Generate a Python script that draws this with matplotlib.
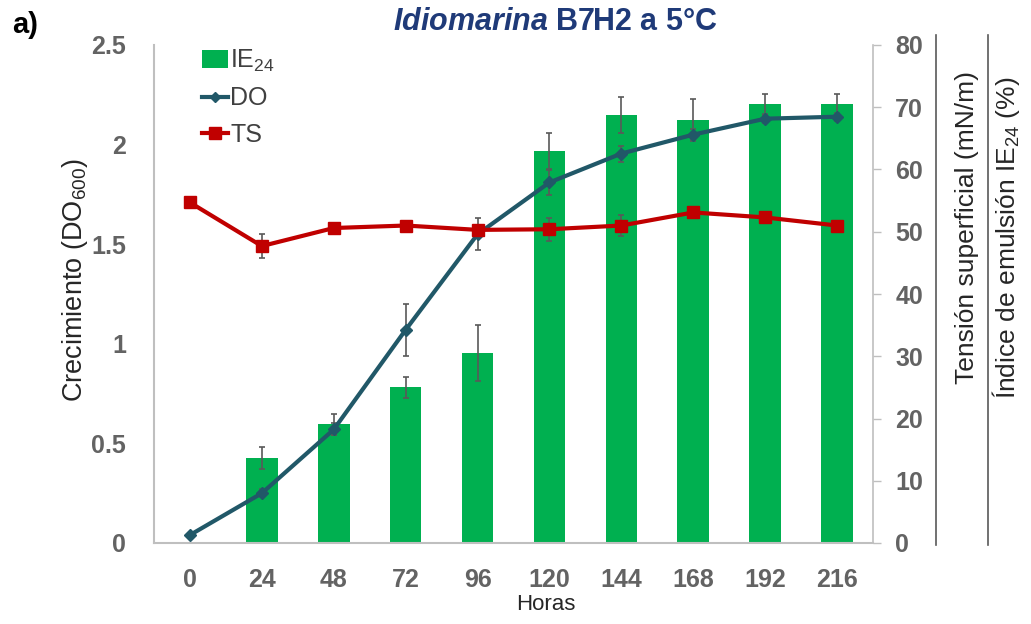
import matplotlib
matplotlib.use('Agg')
import matplotlib.pyplot as plt
from matplotlib.lines import Line2D
from matplotlib.patches import Patch

plt.rcParams['font.family'] = ['Liberation Sans', 'DejaVu Sans']
plt.rcParams['mathtext.fontset'] = 'custom'
plt.rcParams['mathtext.rm'] = 'Liberation Sans'
plt.rcParams['mathtext.it'] = 'Liberation Sans:italic'
plt.rcParams['mathtext.bf'] = 'Liberation Sans:bold'
plt.rcParams['mathtext.bfit'] = 'Liberation Sans:bold:italic'

# data
hours = [0, 24, 48, 72, 96, 120, 144, 168, 192, 216]
ie24 = [0, 13.7, 19.1, 25.0, 30.5, 62.9, 68.8, 68.0, 70.5, 70.5]
ie24_err = [0, 1.8, 1.7, 1.7, 4.5, 2.9, 2.9, 3.3, 1.6, 1.6]
do600 = [0.04, 0.25, 0.57, 1.07, 1.55, 1.81, 1.955, 2.05, 2.13, 2.14]
do600_err = [0, 0.02, 0.03, 0.13, 0.08, 0.063, 0.04, 0.03, 0.02, 0.02]
ts = [54.7, 47.7, 50.6, 51.0, 50.3, 50.4, 51.0, 53.1, 52.3, 51.0]
ts_err = [0, 1.9, 0.6, 0.5, 0.8, 1.85, 1.7, 0.6, 0.6, 0.5]

green = '#00B050'
teal = '#215868'
red = '#C00000'
grey = '#595959'
spine_c = '#BFBFBF'

x = list(range(len(hours)))

fig = plt.figure(figsize=(10.31, 6.24), dpi=100)
ax = fig.add_axes([154/1031, 1-543/624, (873-154)/1031, (543-45)/624])
ax_bar = ax.twinx()
ax_ts = ax.twinx()
ax_bar.set_zorder(1)
ax.set_zorder(2)
ax_ts.set_zorder(3)
for a in (ax, ax_bar, ax_ts):
    a.patch.set_visible(False)

# IE24 bars (right scale)
ax_bar.bar(x, ie24, width=0.44, color=green, zorder=1)
ax_bar.errorbar(x, ie24, yerr=ie24_err, fmt='none', ecolor=grey, elinewidth=1.2, capsize=2.5, capthick=1.2)

# DO line (left scale)
ax.errorbar(x, do600, yerr=do600_err, fmt='none', ecolor=grey, elinewidth=1.2, capsize=2.5, capthick=1.2)
ax.plot(x, do600, color=teal, lw=3, marker='D', ms=6)

# TS line (right scale)
ax_ts.errorbar(x, ts, yerr=ts_err, fmt='none', ecolor=grey, elinewidth=1.2, capsize=2.5, capthick=1.2)
ax_ts.plot(x, ts, color=red, lw=3, marker='s', ms=9)

ax.set_xlim(-0.5, len(hours) - 0.5)
ax.set_ylim(0, 2.5)
ax_bar.set_ylim(0, 80)
ax_ts.set_ylim(0, 80)

ax.set_xticks(x)
ax.set_xticklabels([str(h) for h in hours])
ax.set_yticks([0, 0.5, 1, 1.5, 2, 2.5])
ax.set_yticklabels(['0', '0.5', '1', '1.5', '2', '2.5'])
ax_bar.set_yticks(range(0, 81, 10))
ax_ts.set_yticks([])

for lab in ax.get_xticklabels() + ax.get_yticklabels() + ax_bar.get_yticklabels():
    lab.set_fontsize(18)
    lab.set_fontweight('bold')
    lab.set_color('#636363')

ax.tick_params(axis='x', length=0, pad=18)
ax.tick_params(axis='y', length=0, pad=20)
ax_bar.tick_params(axis='y', length=6, width=1, color=spine_c, pad=10, direction='out')

for a in (ax, ax_bar, ax_ts):
    a.spines['top'].set_visible(False)
for s in ax_ts.spines.values():
    s.set_visible(False)
ax.spines['right'].set_visible(False)
ax.spines['left'].set_color(spine_c)
ax.spines['bottom'].set_color(spine_c)
ax.spines['left'].set_linewidth(1.5)
ax.spines['bottom'].set_linewidth(1.5)
ax_bar.spines['left'].set_visible(False)
ax_bar.spines['bottom'].set_visible(False)
ax_bar.spines['right'].set_color(spine_c)
ax_bar.spines['right'].set_linewidth(1.2)

# axis titles
fig.text(75/1031, 1-280/624, 'Crecimiento (DO$_{600}$)', rotation=90, ha='center', va='center',
         fontsize=19.5, color='#262626')
fig.text(546/1031, 1-605/624, 'Horas', ha='center', va='center', fontsize=16, color='#262626')
fig.text(967/1031, 1-228/624, 'Tensión superficial (mN/m)', rotation=90, ha='center', va='center',
         fontsize=19, color='#262626')
fig.text(1006/1031, 1-238/624, 'Índice de emulsión IE$_{24}$ (%)', rotation=90, ha='center', va='center',
         fontsize=19, color='#262626')
fig.add_artist(Line2D([936/1031, 936/1031], [1-35/624, 1-545/624], color=grey, lw=1.2))
fig.add_artist(Line2D([988/1031, 988/1031], [1-35/624, 1-545/624], color=grey, lw=1.2))

fig.text(555/1031, 1-22/624, r'$\mathbfit{Idiomarina}$ B7H2 a 5°C', ha='center', va='center',
         fontsize=22, fontweight='bold', color='#1F3A78')
fig.text(12/1031, 1-25/624, 'a)', ha='left', va='center', fontsize=21, fontweight='bold', color='black')

handles = [Patch(facecolor=green, edgecolor='none'),
           Line2D([], [], color=teal, lw=3, marker='D', ms=5),
           Line2D([], [], color=red, lw=3, marker='s', ms=8)]
leg = ax_ts.legend(handles, ['IE$_{24}$', 'DO', 'TS'], loc='upper left', bbox_to_anchor=(0.035, 1.04),
                   frameon=False, fontsize=18, handlelength=1.05, handletextpad=0.1, labelspacing=0.5,
                   labelcolor='#404040')

fig.savefig('out.png', dpi=100, facecolor='white')
